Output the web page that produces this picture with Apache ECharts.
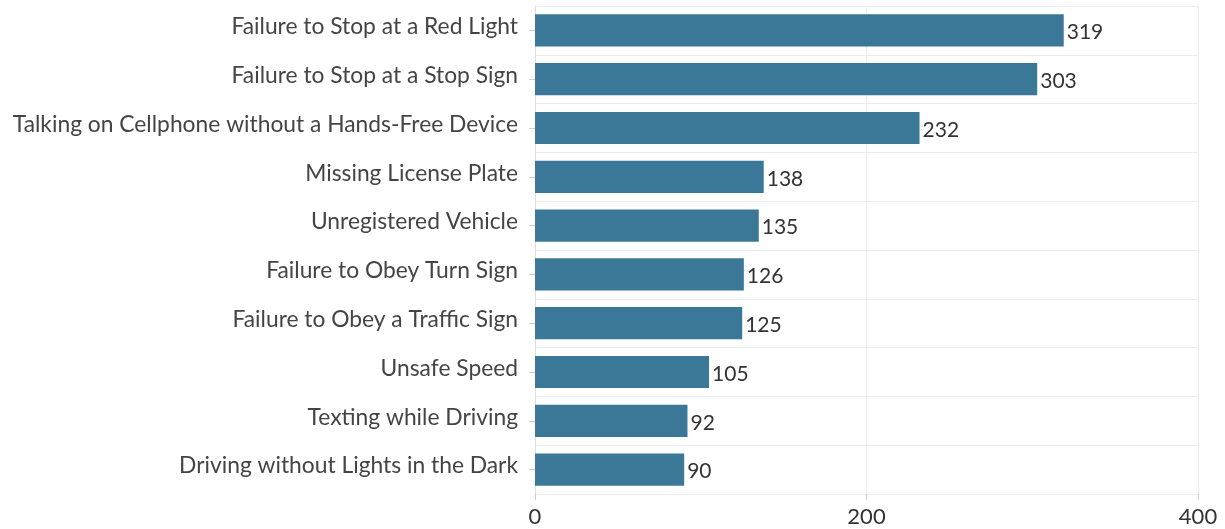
<!DOCTYPE html>
<html>
<head>
<meta charset="utf-8">
<script src="https://cdn.jsdelivr.net/npm/echarts@6/dist/echarts.min.js"></script>
<style>
  html, body { margin: 0; padding: 0; background: #fff; }
  #chart { width: 1225px; height: 529px; }
</style>
</head>
<body>
<div id="chart"></div>
<script>
// Traffic violation categories, top to bottom
const categories = [
  'Failure to Stop at a Red Light',
  'Failure to Stop at a Stop Sign',
  'Talking on Cellphone without a Hands-Free Device',
  'Missing License Plate',
  'Unregistered Vehicle',
  'Failure to Obey Turn Sign',
  'Failure to Obey a Traffic Sign',
  'Unsafe Speed',
  'Texting while Driving',
  'Driving without Lights in the Dark'
];
const counts = [319, 303, 232, 138, 135, 126, 125, 105, 92, 90];
const xTicks = [0, 200, 400];

const chart = echarts.init(document.getElementById('chart'));
const font = 'Lato, "Open Sans", sans-serif';

chart.setOption({
  animation: false,
  grid: { left: 535, right: 27, top: 6, bottom: 35, containLabel: false },
  xAxis: {
    type: 'value',
    min: xTicks[0],
    max: xTicks[xTicks.length - 1],
    interval: xTicks[1] - xTicks[0],
    axisLine: { show: false },
    axisTick: { show: true, length: 6, lineStyle: { color: '#cfcfcf' } },
    splitLine: { show: true, lineStyle: { color: '#ececec' } },
    axisLabel: { color: '#333', fontFamily: font, fontSize: 22, margin: 12 }
  },
  yAxis: {
    type: 'category',
    inverse: true,
    data: categories,
    axisLine: { show: true, lineStyle: { color: '#dcdcdc' } },
    axisTick: { show: true, alignWithLabel: true, length: 6, lineStyle: { color: '#cfcfcf' } },
    splitLine: { show: true, lineStyle: { color: '#ececec' } },
    axisLabel: {
      color: '#444',
      fontFamily: font,
      fontSize: 22.8,
      margin: 17,
      // lift the names slightly above their tick marks
      verticalAlign: 'bottom',
      lineHeight: 7
    }
  },
  series: [{
    type: 'bar',
    data: counts,
    barWidth: '66%',
    itemStyle: { color: '#3b7898' },
    label: {
      show: true,
      position: 'right',
      distance: 3,
      color: '#333',
      fontFamily: font,
      fontSize: 21,
      offset: [0, 2]
    }
  }]
});
</script>
</body>
</html>
